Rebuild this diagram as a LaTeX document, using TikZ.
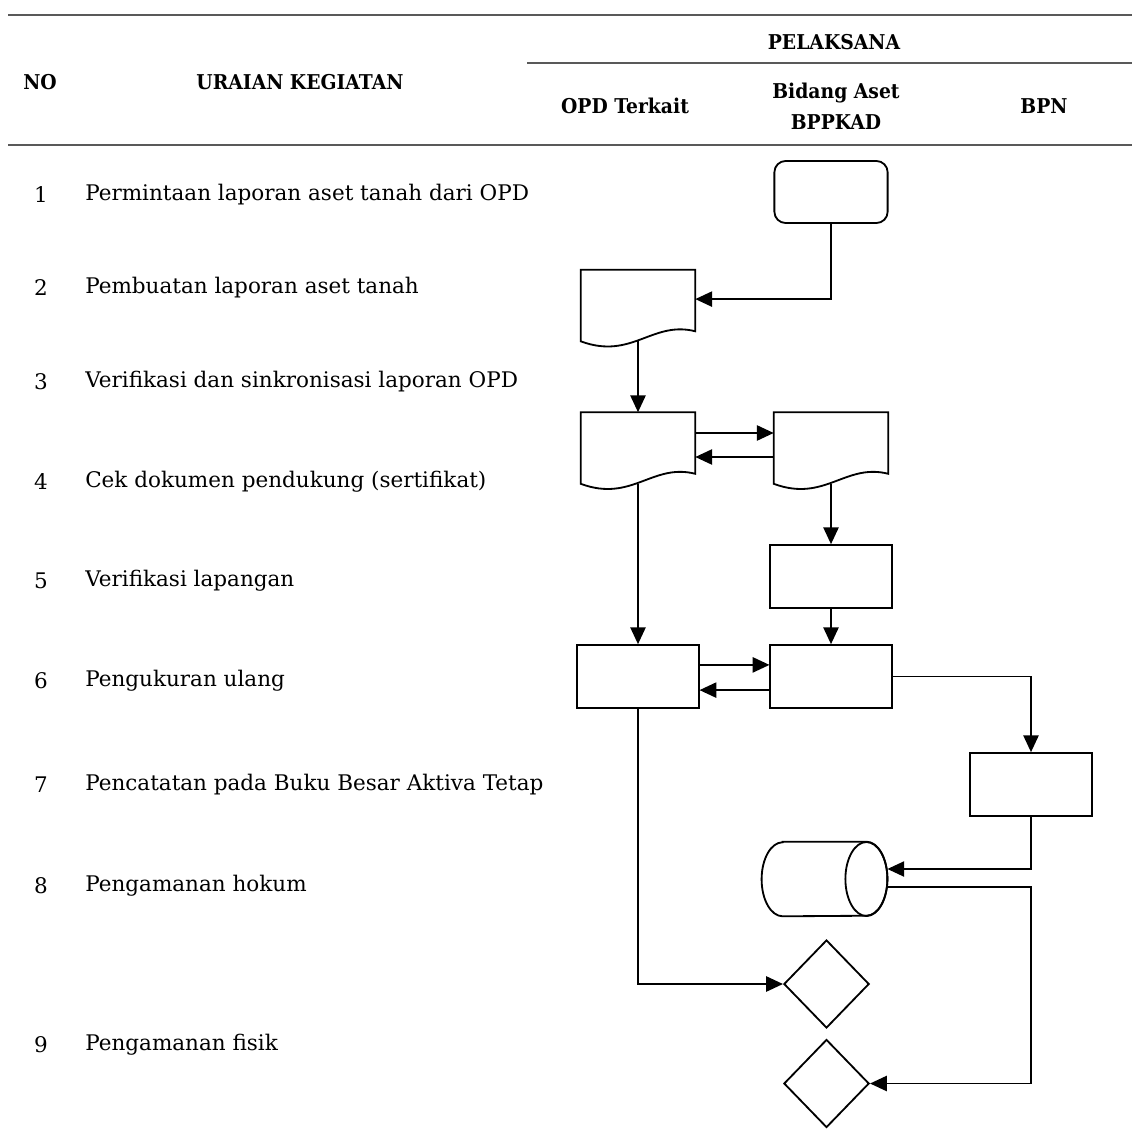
\documentclass[tikz,border=0pt]{standalone}
\usepackage{fontspec}
\setmainfont[FakeStretch=0.92]{DejaVu Serif}
\newfontfamily\bodyfont{DejaVu Serif}
\usetikzlibrary{arrows.meta,shapes.geometric}

\tikzset{
  box/.style={draw,line width=1.3pt,minimum width=3.03cm,minimum height=1.57cm,inner sep=0pt},
  startbox/.style={box,rounded corners=0.28cm,minimum width=2.83cm,minimum height=1.55cm},
  docbox/.style={minimum width=2.85cm,minimum height=1.775cm,inner sep=0pt},
  dbbox/.style={minimum width=3.13cm,minimum height=1.85cm,inner sep=0pt},
  decbox/.style={draw,line width=1.3pt,diamond,minimum width=2.13cm,minimum height=2.2cm,inner sep=0pt},
  flow/.style={line width=1.3pt,-{Triangle[length=0.42cm,width=0.38cm]}},
  link/.style={line width=1.3pt},
  hd/.style={font=\fontsize{14.5}{22}\selectfont\bfseries},
  txt/.style={font=\bodyfont\fontsize{15.3}{18}\selectfont},
  rule/.style={line width=1.4pt,black!65}
}

\begin{document}
\begin{tikzpicture}[x=0.025cm,y=-0.025cm]
  \useasboundingbox (0,0) rectangle (1132,1135);
  % header of the table
  \draw[rule] (8,15) -- (1132,15);
  \draw[rule] (527,63) -- (1132,63);
  \draw[rule] (8,145) -- (1132,145);
  \node[hd] (hno) at (40,82) {NO};
  \node[hd] (huraian) at (300,82) {URAIAN KEGIATAN};
  \node[hd] (hpelaksana) at (834,42) {PELAKSANA};
  \node[hd] (hopd) at (625,106) {OPD Terkait};
  \node[hd,align=center] (hbidang) at (836,106) {Bidang Aset\\BPPKAD};
  \node[hd] (hbpn) at (1044,106) {BPN};

  % rows
  \foreach \i/\y/\t in {1/195/{Permintaan laporan aset tanah dari OPD},
                        2/288/{Pembuatan laporan aset tanah},
                        3/382/{Verifikasi dan sinkronisasi laporan OPD},
                        4/482/{Cek dokumen pendukung (sertifikat)},
                        5/581/{Verifikasi lapangan},
                        6/681/{Pengukuran ulang},
                        7/785/{Pencatatan pada Buku Besar Aktiva Tetap},
                        8/886/{Pengamanan hokum},
                        9/1045/{Pengamanan fisik}} {
    \node[txt] (no\i) at (41,\y) {\i};
    \node[txt,anchor=west,inner xsep=0pt] (uraian\i) at (85,\y) {\t};
  }

  % shapes
  \node[startbox] (start) at (831,192) {};
  \node[docbox] (doca) at (638,305.5) {};
  \node[docbox] (docb) at (638,448) {};
  \node[docbox] (docc) at (831,448) {};
  \node[box] (cek) at (831,576.5) {};
  \node[box] (ukura) at (638,676.5) {};
  \node[box] (ukurb) at (831,676.5) {};
  \node[box] (catat) at (1031,784.5) {};
  \node[dbbox] (buku) at (824.5,879) {};
  \node[decbox] (hukum) at (826.5,984) {};
  \node[decbox] (fisik) at (826.5,1083.5) {};

  % connectors
  \draw[flow] (start.south) |- ([yshift=0.16cm]doca.east);
  \draw[flow] (doca.south) -- (docb.north);
  \draw[flow] ([yshift=0.375cm]docb.east) -- ([yshift=0.375cm]docc.west);
  \draw[flow] ([yshift=-0.225cm]docc.west) -- ([yshift=-0.225cm]docb.east);
  \draw[flow] (docc.south) -- (cek.north);
  \draw[flow] (cek.south) -- (ukurb.north);
  \draw[flow] (docb.south) -- (ukura.north);
  \draw[flow] ([yshift=0.29cm]ukura.east) -- ([yshift=0.29cm]ukurb.west);
  \draw[flow] ([yshift=-0.34cm]ukurb.west) -- ([yshift=-0.34cm]ukura.east);
  \draw[flow] (ukurb.east) -| (catat.north);
  \draw[flow] (catat.south) |- ([yshift=0.25cm]buku.east);
  \draw[flow] ([yshift=-0.2cm]buku.east) -| (catat.south |- fisik.east) -- (fisik.east);
  \draw[flow] (ukura.south) |- (hukum.west);

  % document outlines
  \foreach \n in {doca,docb,docc}
    \draw[link,fill=white] (\n.north west) -- (\n.north east) -- ([yshift=0.25cm]\n.south east)
      .. controls ([shift={(-1.075cm,0.525cm)}]\n.south east) and ([shift={(1.275cm,-0.475cm)}]\n.south west)
      .. (\n.south west) -- cycle;

  % database drum
  \draw[link,fill=white] ([xshift=0.525cm]buku.north west) -- ([xshift=-0.525cm]buku.north east)
    arc (90:-90:0.525cm and 0.925cm) -- ([xshift=0.525cm]buku.south west)
    arc (270:90:0.525cm and 0.925cm) -- cycle;
  \draw[link] ([xshift=-0.525cm]buku.east) ellipse (0.525cm and 0.925cm);
\end{tikzpicture}
\end{document}
